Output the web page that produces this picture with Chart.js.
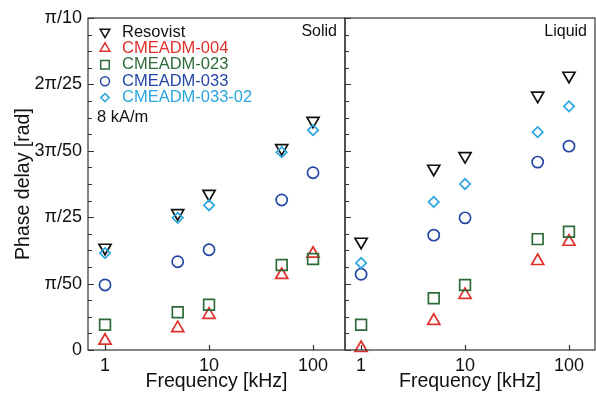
<!DOCTYPE html>
<html>
<head>
<meta charset="utf-8">
<title>Phase delay vs frequency</title>
<script src="https://cdn.jsdelivr.net/npm/chart.js@4.4.1/dist/chart.umd.min.js"></script>
<style>
    html, body { margin: 0; padding: 0; background: #fff; }
    #wrap { position: relative; width: 596px; height: 396px; overflow: hidden; }
    canvas { position: absolute; top: 0; }
    #solid { left: 0; }
    #liquid { left: 340px; }
</style>
</head>
<body>
<div id="wrap">
    <canvas id="solid" width="346" height="396"></canvas>
    <canvas id="liquid" width="256" height="396"></canvas>
</div>
<script>
// Frequencies [kHz]
const freqs = [1, 5, 10, 50, 100];
const seriesNames = ['Resovist', 'CMEADM-004', 'CMEADM-023', 'CMEADM-033', 'CMEADM-033-02'];

// Phase delay, in units of pi/50 rad
const solidResovist = [1.54, 2.06, 2.35, 3.04, 3.45];
const solid004 = [0.14, 0.33, 0.53, 1.13, 1.45];
const solid023 = [0.38, 0.57, 0.68, 1.28, 1.37];
const solid033 = [0.98, 1.33, 1.51, 2.26, 2.67];
const solid03302 = [1.46, 1.99, 2.18, 2.98, 3.31];

const liquidResovist = [1.63, 2.73, 2.92, 3.83, 4.13];
const liquid004 = [0.03, 0.44, 0.83, 1.34, 1.63];
const liquid023 = [0.38, 0.78, 0.98, 1.67, 1.78];
const liquid033 = [1.14, 1.73, 1.99, 2.83, 3.07];
const liquid03302 = [1.31, 2.23, 2.50, 3.28, 3.67];

const yTickLabels = ['0', 'π/50', 'π/25', '3π/50', '2π/25', 'π/10'];
const xTickValues = [1, 10, 100];

const FONT = "'Liberation Sans', Arial, sans-serif";
const AXIS_COLOR = '#333';

// Marker styles per series
const markers = [
    { color: '#111111', style: 'triangle', rotation: 180, radius: 7 },
    { color: '#e0302c', style: 'triangle', rotation: 0, radius: 7 },
    { color: '#2f6b3a', style: 'rect', rotation: 0, radius: 7.6 },
    { color: '#2447a6', style: 'circle', rotation: 0, radius: 5.6 },
    { color: '#2ba6df', style: 'rectRot', rotation: 0, radius: 5.2 }
];

/**
 * Build scatter datasets for one panel
 * @param {Array} seriesValues - one array of values per series
 */
function buildDatasets(seriesValues) {
    return seriesValues.map((vals, i) => ({
        label: seriesNames[i],
        data: freqs.map((f, j) => ({ x: f, y: vals[j] })),
        pointStyle: markers[i].style,
        rotation: markers[i].rotation,
        pointRadius: markers[i].radius,
        pointHoverRadius: markers[i].radius,
        borderColor: markers[i].color,
        backgroundColor: 'rgba(0,0,0,0)',
        borderWidth: 1.7,
        showLine: false,
        clip: false,
        order: seriesNames.length - i
    }));
}

// Frame with inward ticks, plus panel text
const framePlugin = {
    id: 'frame',
    afterDraw(chart, args, opts) {
        const { ctx, chartArea: a } = chart;
        const xs = chart.scales.x;
        const ys = chart.scales.y;
        ctx.save();
        ctx.strokeStyle = AXIS_COLOR;
        ctx.lineWidth = 1.2;
        ctx.strokeRect(a.left, a.top, a.right - a.left, a.bottom - a.top);

        ctx.beginPath();
        for (let v = 0; v <= 5.001; v += 0.25) {
            const y = Math.round(ys.getPixelForValue(v)) + 0.5;
            const len = Math.abs(v - Math.round(v)) < 0.01 ? 6 : 4;
            ctx.moveTo(a.left, y);
            ctx.lineTo(a.left + len, y);
        }
        xTickValues.forEach(v => {
            const x = Math.round(xs.getPixelForValue(v)) + 0.5;
            ctx.moveTo(x, a.bottom);
            ctx.lineTo(x, a.bottom - 5);
        });
        ctx.stroke();

        ctx.fillStyle = '#111';
        ctx.font = '16px ' + FONT;
        ctx.textAlign = 'right';
        ctx.textBaseline = 'middle';
        ctx.fillText(opts.label, a.right - 8, a.top + 14);

        if (opts.legend) {
            const lx = a.left + 17;
            const tx = a.left + 34;
            ctx.font = '16.5px ' + FONT;
            seriesNames.forEach((name, i) => {
                const y = a.top + 14 + i * 16.4;
                const m = markers[i];
                ctx.strokeStyle = m.color;
                ctx.fillStyle = 'rgba(0,0,0,0)';
                ctx.lineWidth = 1.5;
                Chart.helpers.drawPoint(ctx, {
                    pointStyle: m.style,
                    rotation: m.rotation,
                    radius: m.radius * 0.8,
                    borderWidth: 1.5
                }, lx, y);
                ctx.fillStyle = m.color;
                ctx.textAlign = 'left';
                ctx.fillText(name, tx, y);
            });
            ctx.fillStyle = '#111';
            ctx.fillText('8 kA/m', a.left + 9, a.top + 14 + 5 * 16.4 + 3);
        }
        ctx.restore();
    }
};

/**
 * Create one panel of the figure
 * @param {string} canvasId - Canvas element ID
 * @param {Array} seriesValues - values per series
 * @param {Object} panel - panel settings
 */
function createPanel(canvasId, seriesValues, panel) {
    const ctx = document.getElementById(canvasId).getContext('2d');
    return new Chart(ctx, {
        type: 'scatter',
        data: { datasets: buildDatasets(seriesValues) },
        plugins: [framePlugin],
        options: {
            responsive: false,
            animation: false,
            events: [],
            layout: { autoPadding: false, padding: panel.padding },
            plugins: {
                legend: { display: false },
                tooltip: { enabled: false },
                frame: { label: panel.label, legend: panel.legend }
            },
            scales: {
                x: {
                    type: 'logarithmic',
                    min: panel.xMin,
                    max: panel.xMax,
                    afterBuildTicks: scale => {
                        scale.ticks = xTickValues.map(v => ({ value: v }));
                    },
                    afterFit: scale => {
                        scale.height = 46;
                        scale.paddingLeft = 0;
                        scale.paddingRight = 0;
                    },
                    grid: { display: false, drawTicks: false },
                    border: { display: false },
                    ticks: {
                        padding: 5,
                        color: '#111',
                        font: { family: FONT, size: 18 },
                        autoSkip: false,
                        maxRotation: 0,
                        callback: v => String(v)
                    },
                    title: {
                        display: true,
                        text: 'Frequency [kHz]',
                        color: '#111',
                        font: { family: FONT, size: 19.5 },
                        padding: { top: 0, bottom: 3 }
                    }
                },
                y: {
                    display: panel.showY,
                    min: 0,
                    max: 5,
                    afterFit: scale => {
                        scale.width = panel.showY ? 88 : 0;
                        scale.paddingTop = 0;
                        scale.paddingBottom = 0;
                    },
                    grid: { display: false, drawTicks: false },
                    border: { display: false },
                    ticks: {
                        stepSize: 1,
                        padding: 6,
                        color: '#111',
                        font: { family: FONT, size: 18 },
                        callback: v => yTickLabels[Math.round(v)]
                    },
                    title: {
                        display: true,
                        text: 'Phase delay [rad]',
                        color: '#111',
                        font: { family: FONT, size: 19.5 },
                        padding: { top: 12, bottom: 0 }
                    }
                }
            }
        }
    });
}

createPanel('solid',
    [solidResovist, solid004, solid023, solid033, solid03302],
    { label: 'Solid', legend: true, showY: true, xMin: 0.686, xMax: 203,
      padding: { top: 18, right: 1, bottom: 0, left: 0 } });

createPanel('liquid',
    [liquidResovist, liquid004, liquid023, liquid033, liquid03302],
    { label: 'Liquid', legend: false, showY: false, xMin: 0.702, xMax: 178,
      padding: { top: 18, right: 1, bottom: 0, left: 5 } });
</script>
</body>
</html>
